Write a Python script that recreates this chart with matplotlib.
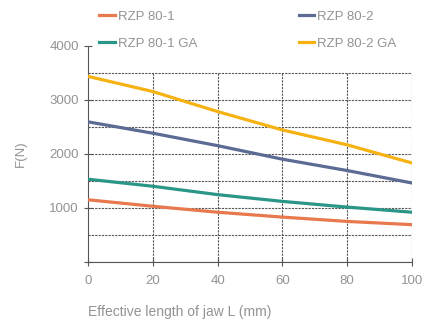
import matplotlib.pyplot as plt
from matplotlib import font_manager

# data
jaw_length = [0, 20, 40, 60, 80, 100]
rzp80_1 = [1150, 1030, 920, 830, 750, 690]
rzp80_2 = [2590, 2380, 2150, 1900, 1690, 1460]
rzp80_1_ga = [1530, 1400, 1245, 1120, 1015, 920]
rzp80_2_ga = [3430, 3150, 2780, 2440, 2165, 1830]
series_names = ['RZP 80-1', 'RZP 80-2', 'RZP 80-1 GA', 'RZP 80-2 GA']
series_colors = ['#e8784e', '#5b6b93', '#2a9688', '#f5b212']

fam = 'Liberation Sans Narrow'
if fam not in {f.name for f in font_manager.fontManager.ttflist}:
    fam = 'Liberation Sans'
plt.rcParams['font.family'] = [fam, 'DejaVu Sans']

txt_color = '#939393'
fig = plt.figure(figsize=(4.28, 3.29), dpi=100)
ax = fig.add_axes([0.2056, 0.2036, 0.757, 0.658])

# dashed grid, only up to 3500
for yv in range(0, 3501, 500):
    ax.plot([0, 100], [yv, yv], color='#555555', lw=0.8, ls=(0, (2, 1)), zorder=1)
for xv in jaw_length[1:]:
    ax.plot([xv, xv], [0, 3500], color='#555555', lw=0.8, ls=(0, (2, 1)), zorder=1)

handles = []
for vals, name, col in zip([rzp80_1, rzp80_2, rzp80_1_ga, rzp80_2_ga], series_names, series_colors):
    h, = ax.plot(jaw_length, vals, color=col, lw=2.3, label=name, zorder=3)
    handles.append(h)

ax.set_xlim(0, 100)
ax.set_ylim(0, 4000)
ax.set_xticks(jaw_length)
ax.set_yticks([0, 1000, 2000, 3000, 4000])
ax.set_yticklabels(['', '1000', '2000', '3000', '4000'])
ax.tick_params(direction='inout', length=6, width=0.8, color='#555555',
               labelcolor=txt_color, labelsize=9.5)
ax.tick_params(axis='x', pad=6)
for s in ['top', 'right']:
    ax.spines[s].set_visible(False)
for s in ['left', 'bottom']:
    ax.spines[s].set_color('#555555')
    ax.spines[s].set_linewidth(0.8)

ax.set_ylabel('F(N)', color=txt_color, fontsize=9.5, labelpad=16)
fig.text(0.205, 0.04, 'Effective length of jaw L (mm)', color=txt_color, fontsize=10)

# matplotlib fills legend columns first, so reorder to get rows 80-1/80-2, then GA
order = [0, 2, 1, 3]
fig.legend(handles=[handles[i] for i in order], labels=[series_names[i] for i in order],
           ncol=2, loc='upper left', bbox_to_anchor=(0.21, 0.995),
           frameon=False, fontsize=9.5, labelcolor=txt_color, handlelength=1.2,
           handletextpad=0.2, columnspacing=7.7, borderaxespad=0.3, labelspacing=1.1)

fig.savefig('out.png', dpi=100)
